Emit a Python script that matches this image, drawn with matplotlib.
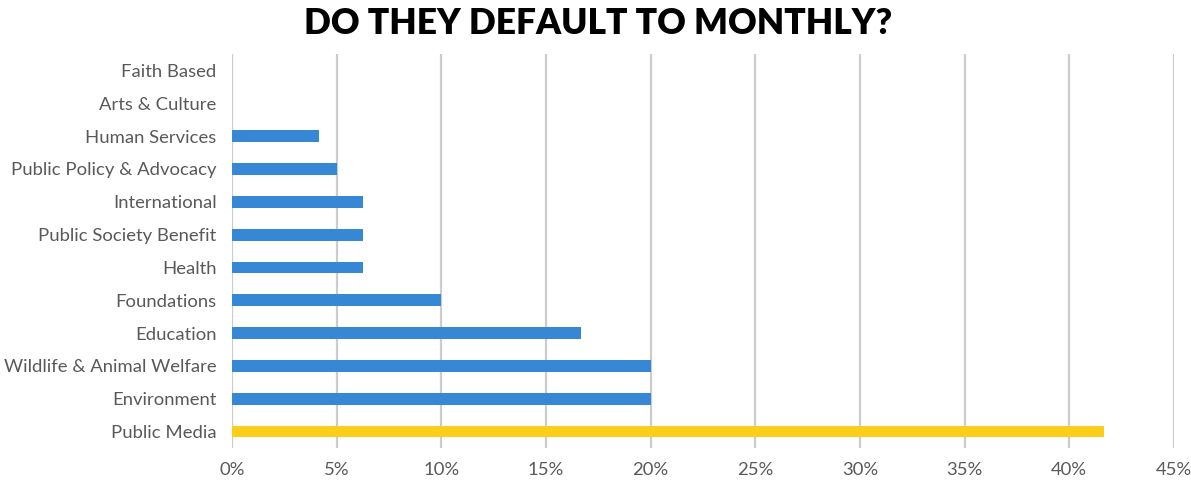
import matplotlib.pyplot as plt
from matplotlib.ticker import PercentFormatter

# Share of organisations defaulting to monthly giving, by sector (%)
sectors = [
    "Public Media",
    "Environment",
    "Wildlife & Animal Welfare",
    "Education",
    "Foundations",
    "Health",
    "Public Society Benefit",
    "International",
    "Public Policy & Advocacy",
    "Human Services",
    "Arts & Culture",
    "Faith Based",
]
share_pct = [41.67, 20.0, 20.0, 16.67, 10.0, 6.25, 6.25, 6.25, 5.0, 4.17, 0.0, 0.0]
highlight = "Public Media"

BLUE = "#3688d4"
YELLOW = "#fdcd1b"
LABEL_GRAY = "#595959"

plt.rcParams["font.family"] = ["Lato", "DejaVu Sans"]

fig = plt.figure(figsize=(11.91, 4.83), dpi=100)
ax = fig.add_axes([0.1948, 0.0725, 0.7909, 0.8155])

colors = [YELLOW if s == highlight else BLUE for s in sectors]
ax.barh(sectors, share_pct, height=0.36, color=colors, zorder=3)

ax.set_xlim(0, 45)
ax.set_ylim(-0.5, len(sectors) - 0.5)
ax.set_xticks(range(0, 46, 5))
ax.xaxis.set_major_formatter(PercentFormatter(decimals=0))
ax.grid(axis="x", color="#cccccc", linewidth=1.6, zorder=0)
ax.grid(axis="y", visible=False)
for spine in ax.spines.values():
    spine.set_visible(False)
ax.tick_params(axis="both", length=0, labelsize=13.3, labelcolor=LABEL_GRAY)
ax.tick_params(axis="y", pad=11)
ax.tick_params(axis="x", pad=10)

fig.text(0.502, 0.952, "DO THEY DEFAULT TO MONTHLY?", ha="center", va="center",
         fontsize=25.5, fontweight="heavy", color="black")

fig.savefig("out.png", dpi=100)
